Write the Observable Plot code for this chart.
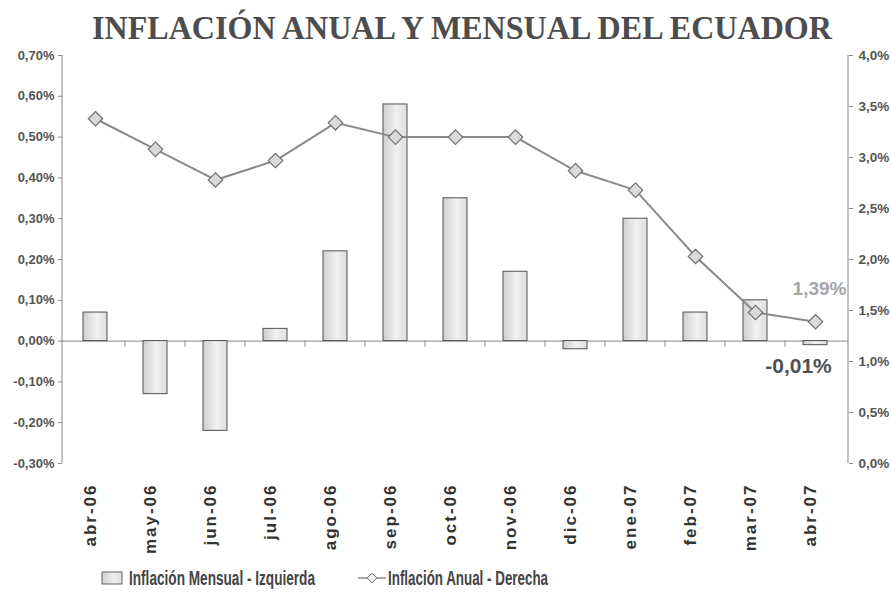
<!DOCTYPE html>
<html><head><meta charset="utf-8">
<script src="https://cdn.jsdelivr.net/npm/d3@7"></script>
<script src="https://cdn.jsdelivr.net/npm/@observablehq/plot@0.6"></script>
<style>
html,body{margin:0;padding:0;background:#fff;}
body{width:891px;height:604px;overflow:hidden;position:relative;font-family:"Liberation Sans",Arial,sans-serif;}
#title{position:absolute;left:0;top:0;}
#chart{position:absolute;left:0;top:48px;}
#legend{position:absolute;left:0;top:558px;}
</style></head><body>
<svg id="title" width="891" height="48"><text x="92" y="39" textLength="740" lengthAdjust="spacingAndGlyphs" font-family="'Liberation Serif','Times New Roman',serif" font-weight="bold" font-size="33" fill="#4d4d4d">INFLACIÓN ANUAL Y MENSUAL DEL ECUADOR</text></svg>
<div id="chart"></div>
<svg id="legend" width="891" height="44"></svg>
<script>
const months = ["abr-06","may-06","jun-06","jul-06","ago-06","sep-06","oct-06","nov-06","dic-06","ene-07","feb-07","mar-07","abr-07"];
const mensual = [0.07,-0.13,-0.22,0.03,0.22,0.58,0.35,0.17,-0.02,0.30,0.07,0.10,-0.01];
const anual = [3.38,3.08,2.78,2.97,3.34,3.20,3.20,3.20,2.87,2.68,2.03,1.48,1.39];
const leftTicks = [-0.3,-0.2,-0.1,0,0.1,0.2,0.3,0.4,0.5,0.6,0.7];
const rightTicks = [0,0.5,1,1.5,2,2.5,3,3.5,4];
const legendLabels = ["Inflación Mensual - Izquierda","Inflación Anual - Derecha"];

const toLeft = v => -0.3 + v / 4;
const fromLeft = y => (y + 0.3) * 4;
const data = months.map((m, i) => ({m, v: mensual[i], a: anual[i]}));
const last = data[data.length - 1];

const W = 891, H = 510, ML = 62, MR = 43, MT = 7, MB = 95;
const PI = 0.6, PO = 0.3;
const step = (W - ML - MR) / (months.length - PI + 2 * PO);

const axisLines = (index, scales, values, dims) => {
  const g = d3.create("svg:g");
  const y = scales.y;
  const x = scales.x;
  const bw = x.bandwidth ? x.bandwidth() : step * (1 - PI);
  g.append("line").attr("x1", dims.marginLeft).attr("x2", dims.marginLeft)
    .attr("y1", y(0.7)).attr("y2", y(-0.3)).attr("stroke", "#888");
  g.append("line").attr("x1", dims.width - dims.marginRight).attr("x2", dims.width - dims.marginRight)
    .attr("y1", y(0.7)).attr("y2", y(-0.3)).attr("stroke", "#888");
  for (let i = 1; i < months.length; i++) {
    const xb = (x(months[i - 1]) + bw + x(months[i])) / 2;
    g.append("line").attr("x1", xb).attr("x2", xb)
      .attr("y1", y(0)).attr("y2", y(0) + 6).attr("stroke", "#888");
  }
  return g.node();
};

const chart = Plot.plot({
  width: W, height: H,
  marginLeft: ML, marginRight: MR, marginTop: MT, marginBottom: MB,
  style: {fontFamily: "'Liberation Sans', Arial, sans-serif", background: "white", overflow: "visible"},
  x: {type: "band", domain: months, paddingInner: PI, paddingOuter: PO, label: null},
  y: {domain: [-0.3, 0.7], label: null},
  marks: [
    Plot.ruleY([0], {stroke: "#888"}),
    Plot.barY(data, {x: "m", y: "v", fill: "url(#barGrad)", stroke: "#505050", strokeWidth: 1}),
    Plot.line(data, {x: "m", y: d => toLeft(d.a), stroke: "#8a8a8a", strokeWidth: 2}),
    Plot.dot(data, {x: "m", y: d => toLeft(d.a), symbol: "diamond2", r: 6.5, fill: "#dadada", stroke: "#707070", strokeWidth: 1.2}),
    Plot.text([last], {x: "m", y: d => toLeft(d.a), text: d => d.a.toFixed(2).replace(".", ",") + "%", dy: -33, dx: 4, fill: "#a5a5a5", fontWeight: "bold", fontSize: 19}),
    Plot.text([last], {x: "m", y: "v", text: d => d.v.toFixed(2).replace(".", ",") + "%", dy: 21, dx: -17, fill: "#505050", fontWeight: "bold", fontSize: 21}),
    axisLines,
    Plot.axisY(leftTicks, {anchor: "left", label: null, tickSize: 4, tickPadding: 4, stroke: "#888",
      tickFormat: d => d.toFixed(2).replace(".", ",") + "%", fontSize: 13, fontWeight: "bold", fill: "#555"}),
    Plot.axisY(rightTicks.map(toLeft), {anchor: "right", label: null, tickSize: 4, tickPadding: 6, stroke: "#888",
      tickFormat: d => fromLeft(d).toFixed(1).replace(".", ",") + "%", fontSize: 13.5, fontWeight: "bold", fill: "#555"}),
    Plot.axisX({anchor: "bottom", label: null, tickSize: 0, tickPadding: 20, tickRotate: -90, dx: -5, fontSize: 17, fontWeight: "bold", fill: "#333"})
  ]
});

const svg = d3.select(chart.tagName === "svg" ? chart : chart.querySelector("svg"));
const defs = svg.insert("defs", ":first-child");
const grad = defs.append("linearGradient").attr("id", "barGrad").attr("x1", "0").attr("x2", "1").attr("y1", "0").attr("y2", "0");
grad.append("stop").attr("offset", "0%").attr("stop-color", "#cfcfcf");
grad.append("stop").attr("offset", "55%").attr("stop-color", "#f0f0f0");
grad.append("stop").attr("offset", "100%").attr("stop-color", "#dedede");
svg.selectAll('g[aria-label="x-axis tick label"] text').style("letter-spacing", "2px");
document.getElementById("chart").appendChild(chart);

// legend
const lg = d3.select("#legend");
const ld = lg.append("defs").append("linearGradient").attr("id", "legGrad").attr("x1", "0").attr("x2", "1");
ld.append("stop").attr("offset", "0%").attr("stop-color", "#cfcfcf");
ld.append("stop").attr("offset", "60%").attr("stop-color", "#f0f0f0");
ld.append("stop").attr("offset", "100%").attr("stop-color", "#dedede");
lg.append("rect").attr("x", 102).attr("y", 14).attr("width", 20).attr("height", 12)
  .attr("fill", "url(#legGrad)").attr("stroke", "#606060");
lg.append("text").attr("x", 129).attr("y", 27).attr("textLength", 186).attr("lengthAdjust", "spacingAndGlyphs")
  .attr("font-weight", "bold").attr("font-size", 20).attr("fill", "#444").text(legendLabels[0]);
lg.append("line").attr("x1", 358).attr("x2", 386).attr("y1", 20).attr("y2", 20).attr("stroke", "#8a8a8a").attr("stroke-width", 1.5);
lg.append("path").attr("d", d3.symbol(d3.symbolDiamond2, 60)()).attr("transform", "translate(372,20)")
  .attr("fill", "#eee").attr("stroke", "#707070");
lg.append("text").attr("x", 388).attr("y", 27).attr("textLength", 160).attr("lengthAdjust", "spacingAndGlyphs")
  .attr("font-weight", "bold").attr("font-size", 20).attr("fill", "#444").text(legendLabels[1]);
</script>
</body></html>
